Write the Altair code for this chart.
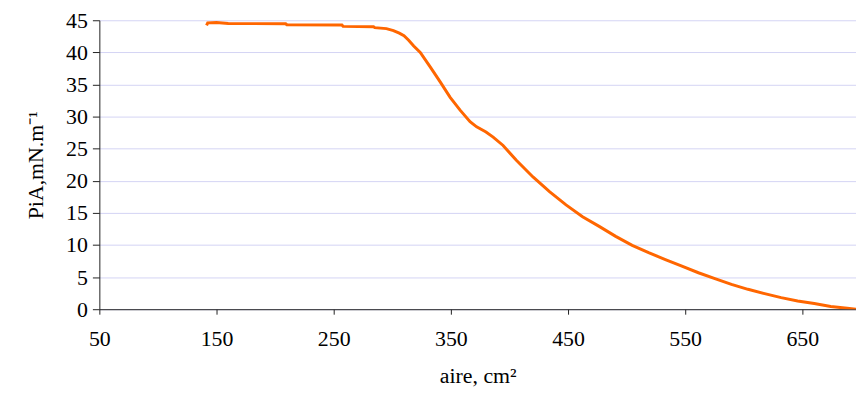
import altair as alt
import pandas as pd

# Surface pressure isotherm
aire = [141.5, 142.5, 150, 160, 209, 210, 257, 258, 284, 285, 295, 301, 306, 310,
        314, 318.3, 323.9, 332.5, 340.9, 349.4, 357.9, 366.4, 372.0, 380, 386.1,
        394.6, 405.9, 420.1, 434.2, 448.3, 462.4, 476.6, 490.7, 504.8, 518.8,
        533.1, 547.2, 561.3, 575.4, 589.5, 603.6, 617.8, 631.9, 646.0, 660.2,
        674.2, 688.3, 695.8]
pia = [44.2, 44.6, 44.65, 44.5, 44.45, 44.3, 44.25, 44.05, 44.0, 43.85, 43.7,
       43.4, 43.0, 42.6, 41.9, 41.0, 40.0, 37.7, 35.4, 33.0, 31.0, 29.2, 28.4,
       27.6, 26.8, 25.5, 23.2, 20.6, 18.3, 16.25, 14.4, 12.9, 11.35, 9.95, 8.8,
       7.74, 6.7, 5.68, 4.75, 3.87, 3.1, 2.43, 1.8, 1.29, 0.88, 0.42, 0.15, 0.0]

x_ticks = [50, 150, 250, 350, 450, 550, 650]
y_ticks = [0, 5, 10, 15, 20, 25, 30, 35, 40, 45]

df = pd.DataFrame({"aire": aire, "pia": pia, "i": list(range(len(aire)))})

FONT = "Liberation Serif"

chart = alt.Chart(df).mark_line(color="#ff6600", strokeWidth=3, clip=True).encode(
    x=alt.X("aire:Q",
            scale=alt.Scale(domain=[50, 695.8], nice=False, zero=False),
            axis=alt.Axis(values=x_ticks, title="aire, cm²", grid=False,
                          tickSize=5, labelPadding=15, titlePadding=16,
                          labelFlush=False)),
    y=alt.Y("pia:Q",
            scale=alt.Scale(domain=[0, 45], nice=False),
            axis=alt.Axis(values=y_ticks, title="PiA,mN.m⁻¹", grid=True,
                          tickSize=7, labelPadding=5, titlePadding=18)),
    order="i:Q",
).properties(
    width=762,
    height=291,
    autosize=alt.AutoSizeParams(type="none"),
    padding={"left": 92, "top": 11, "right": 0, "bottom": 80},
).configure_view(
    stroke=None
).configure_axis(
    labelFont=FONT, titleFont=FONT, labelFontSize=22, titleFontSize=22,
    labelColor="#000", titleColor="#000", titleFontWeight="normal",
    domainColor="#222", tickColor="#222", domainWidth=1, tickWidth=1,
    gridColor="#d4d4f4", gridWidth=1, gridOpacity=1,
)

chart.save("out.html", embed_options={"renderer": "svg", "actions": False})
